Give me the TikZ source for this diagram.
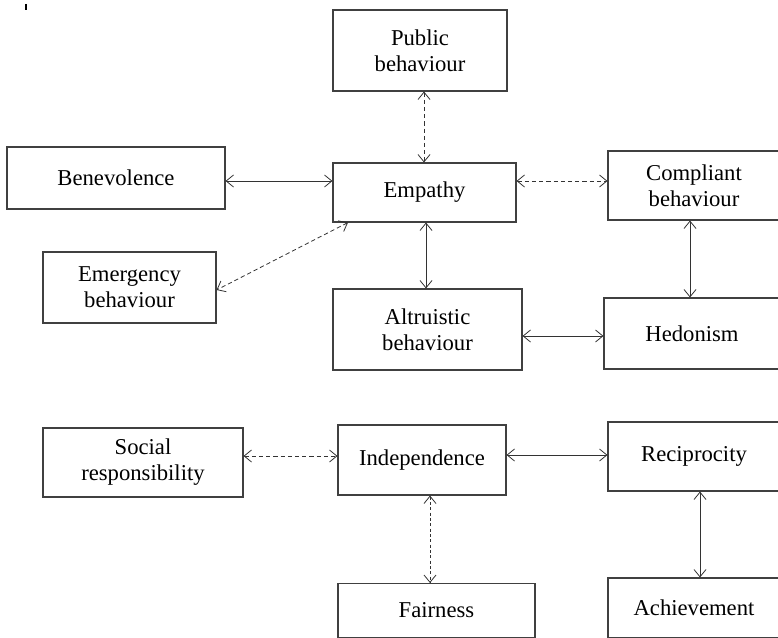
\documentclass[tikz,border=0pt]{standalone}
\usepackage{fontspec}
\setmainfont{Liberation Serif}
\usetikzlibrary{arrows.meta}
\begin{document}
\begin{tikzpicture}[x=0.75pt,y=-0.75pt,
  box/.style={draw=black!75,line width=0.8pt,rectangle,inner sep=0pt,
    align=center,font=\fontsize{17}{19.5}\selectfont},
  link/.style={draw=black!80,line width=0.6pt,
    {Straight Barb[length=5.5pt,width=9pt]}-{Straight Barb[length=5.5pt,width=9pt]}},
  dsh/.style={link,dash pattern=on 3.2pt off 2.2pt},
  fdsh/.style={link,dash pattern=on 2.4pt off 1.6pt}]
\useasboundingbox (0,0) rectangle (778,638);
\draw[black,line width=1pt] (26,4) -- (26,10);

\node[box,minimum width=174*0.75pt,minimum height=81*0.75pt] (pub) at (420,50.5) {Public\\behaviour};
\node[box,minimum width=218*0.75pt,minimum height=62*0.75pt] (ben) at (116,178) {Benevolence};
\node[box,minimum width=183*0.75pt,minimum height=59*0.75pt] (emp) at (424.5,192.5) {Empathy};
\node[box,minimum width=172*0.75pt,minimum height=69*0.75pt] (comp) at (694,185.5) {Compliant\\behaviour};
\node[box,minimum width=173*0.75pt,minimum height=71*0.75pt] (emer) at (129.5,287.5) {Emergency\\behaviour};
\node[box,minimum width=189*0.75pt,minimum height=81*0.75pt] (alt) at (427.5,329.5) {Altruistic\\behaviour};
\node[box,minimum width=176*0.75pt,minimum height=71*0.75pt] (hed) at (692,333.5) {Hedonism};
\node[box,minimum width=200*0.75pt,minimum height=69*0.75pt] (soc) at (143,462.5) {Social\\responsibility};
\node[box,minimum width=168*0.75pt,minimum height=70*0.75pt] (ind) at (422,460) {Independence};
\node[box,minimum width=172*0.75pt,minimum height=69*0.75pt] (rec) at (694,456.5) {Reciprocity};
\node[box,minimum width=197*0.75pt,minimum height=54*0.75pt] (fair) at (436.5,610.5) {Fairness};
\node[box,minimum width=172*0.75pt,minimum height=60*0.75pt] (ach) at (694,608) {Achievement};

\draw[dsh] (pub.south -| 424,0) -- (emp.north -| 424,0);
\draw[link] (ben.east |- 0,181) -- (emp.west |- 0,181);
\draw[dsh] (emp.east |- 0,181) -- (comp.west |- 0,181);
\draw[dsh] (emp.south -| 348,0) -- (emer.east |- 0,290);
\draw[link] (emp.south -| 426,0) -- (alt.north -| 426,0);
\draw[link] (comp.south -| 690,0) -- (hed.north -| 690,0);
\draw[link] (alt.east |- 0,336) -- (hed.west |- 0,336);
\draw[dsh] (soc.east |- 0,456) -- (ind.west |- 0,456);
\draw[link] (ind.east |- 0,455) -- (rec.west |- 0,455);
\draw[fdsh] (ind.south -| 430,0) -- (fair.north -| 430,0);
\draw[link] (rec.south -| 700,0) -- (ach.north -| 700,0);
\end{tikzpicture}
\end{document}
